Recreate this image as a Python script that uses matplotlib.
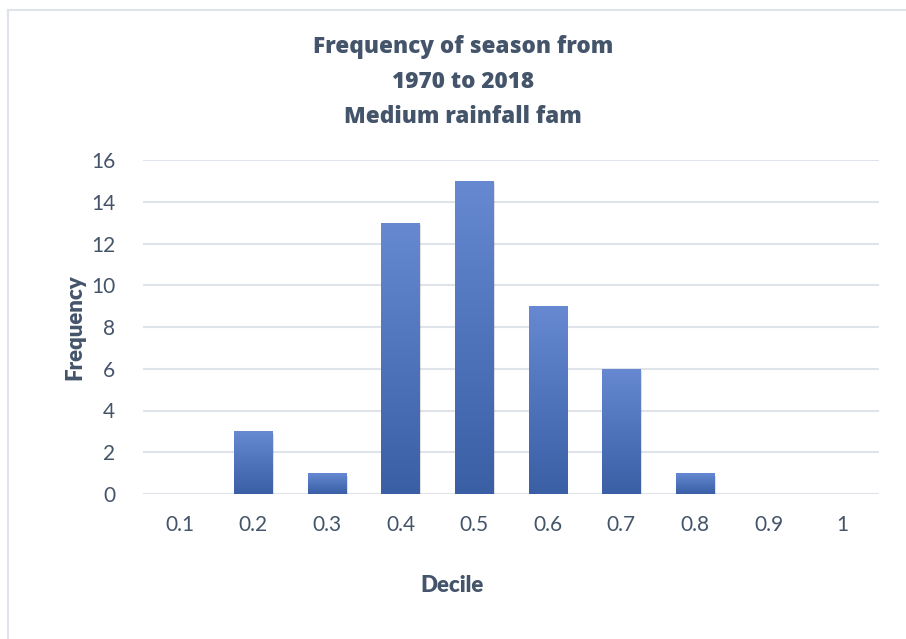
import matplotlib
matplotlib.use("Agg")
import matplotlib.pyplot as plt
import numpy as np
from matplotlib.patches import Rectangle
from matplotlib.colors import LinearSegmentedColormap

categories = ["0.1", "0.2", "0.3", "0.4", "0.5", "0.6", "0.7", "0.8", "0.9", "1"]
frequency = [0, 3, 1, 13, 15, 9, 6, 1, 0, 0]
yticks = [0, 2, 4, 6, 8, 10, 12, 14, 16]

text_color = "#44546a"
grid_color = "#dfe3ea"

fig = plt.figure(figsize=(9.06, 6.39), dpi=100)
fig.patch.set_facecolor("white")

# outer chart border (left and top visible)
fig.add_artist(plt.Line2D([8/906, 8/906], [0, 1 - 10/639], color=grid_color, lw=1.5, transform=fig.transFigure))
fig.add_artist(plt.Line2D([8/906, 1], [1 - 10/639, 1 - 10/639], color=grid_color, lw=1.5, transform=fig.transFigure))

left, right = 143/906, 879/906
bottom, top = 1 - 494/639, 1 - 160/639
ax = fig.add_axes([left, bottom, right - left, top - bottom])

x = np.arange(len(categories))

for y in yticks:
    ax.axhline(y, color=grid_color, lw=1.5, zorder=0)

cmap = LinearSegmentedColormap.from_list("g", ["#3a5fa5", "#6689d2"])
grad = np.linspace(0, 1, 256).reshape(-1, 1)
bars = ax.bar(x, frequency, width=0.52, color="none", edgecolor="none", zorder=2)
for b, v in zip(bars, frequency):
    if v <= 0:
        continue
    bx, bw = b.get_x(), b.get_width()
    sh = Rectangle((bx + 0.02, -0.12), bw, v, facecolor="#000000", alpha=0.12, edgecolor="none", zorder=1.5)
    ax.add_patch(sh)
    im = ax.imshow(grad, extent=[bx, bx + bw, 0, v], origin="lower", cmap=cmap,
                   aspect="auto", zorder=2, interpolation="bilinear")
    im.set_clip_path(b)

ax.set_xlim(-0.5, len(categories) - 0.5)
ax.set_ylim(0, 16)

for s in ax.spines.values():
    s.set_visible(False)
ax.set_xticks(x)
ax.set_xticklabels(categories)
ax.set_yticks(yticks)
ax.set_yticklabels([str(t) for t in yticks])
ax.tick_params(axis="both", length=0, labelsize=15, colors=text_color)
ax.tick_params(axis="x", pad=15)
ax.tick_params(axis="y", pad=20)
for lab in ax.get_xticklabels() + ax.get_yticklabels():
    lab.set_fontfamily("Lato")

ax.set_xlabel("Decile", fontsize=16, fontweight="heavy", color=text_color, family="Lato")
ax.xaxis.set_label_coords(0.42, -0.243)
ax.set_ylabel("Frequency", fontsize=16, fontweight="heavy", color=text_color, family="Lato", labelpad=4)

fig.text(463/906, 1 - 82/639, "Frequency of season from\n1970 to 2018\nMedium rainfall fam",
         ha="center", va="center", fontsize=16.2, fontweight=800, color=text_color,
         family="Open Sans", linespacing=1.6)

fig.savefig("out.png", dpi=100)
